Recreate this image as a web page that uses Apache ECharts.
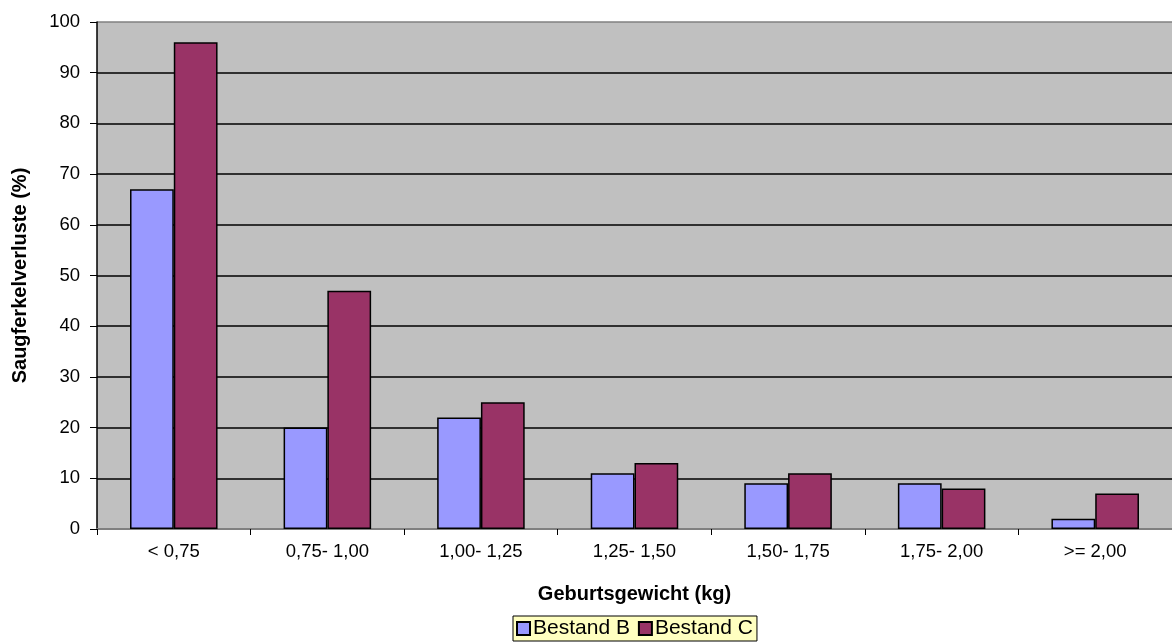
<!DOCTYPE html>
<html>
<head>
<meta charset="utf-8">
<script src="https://cdn.jsdelivr.net/npm/echarts@6/dist/echarts.min.js"></script>
<style>
  html, body { margin: 0; padding: 0; background: #fff; }
  #chart { width: 1172px; height: 642px; }
</style>
</head>
<body>
<div id="chart"></div>
<script>
// Birth-weight classes and piglet losses per herd
const categories = ['< 0,75', '0,75- 1,00', '1,00- 1,25', '1,25- 1,50', '1,50- 1,75', '1,75- 2,00', '>= 2,00'];
const bestandB = [67, 20, 22, 11, 9, 9, 2];
const bestandC = [96, 47, 25, 13, 11, 8, 7];
const seriesNames = ['Bestand B', 'Bestand C'];

const font = 'Liberation Sans, Arial, sans-serif';

// gridlines black; the 0 and 100 lines grey like the plot frame
const splitColors = ['#808080', '#000', '#000', '#000', '#000', '#000', '#000', '#000', '#000', '#000', '#808080'];

const chart = echarts.init(document.getElementById('chart'), null, { renderer: 'canvas' });
chart.setOption({
  animation: false,
  backgroundColor: '#ffffff',
  grid: {
    left: 97, right: -7, top: 22, bottom: 113,
    show: true, backgroundColor: '#c0c0c0', borderWidth: 0
  },
  legend: {
    data: seriesNames,
    bottom: 1,
    left: 513,
    backgroundColor: '#ffffc0',
    borderColor: '#000',
    borderWidth: 1,
    borderRadius: 0,
    padding: [2, 4, 2, 3],
    itemGap: 8,
    itemWidth: 13,
    itemHeight: 13,
    icon: 'rect',
    textStyle: { fontFamily: font, fontSize: 21, color: '#000', padding: [0, 0, 0, -2] }
  },
  xAxis: {
    type: 'category',
    data: categories,
    name: 'Geburtsgewicht (kg)',
    nameLocation: 'middle',
    nameGap: 55,
    nameTextStyle: { fontFamily: font, fontSize: 20, fontWeight: 'bold', color: '#000' },
    axisLine: { lineStyle: { color: '#808080', width: 2 } },
    axisTick: { show: true, alignWithLabel: false, length: 6, lineStyle: { color: '#000' } },
    axisLabel: { fontFamily: font, fontSize: 18.5, color: '#000', margin: 13 },
    splitLine: { show: false }
  },
  yAxis: {
    type: 'value',
    min: 0, max: 100, interval: 10,
    name: 'Saugferkelverluste (%)',
    nameLocation: 'middle',
    nameGap: 67,
    nameTextStyle: { fontFamily: font, fontSize: 20, fontWeight: 'bold', color: '#000' },
    axisLine: { show: true, lineStyle: { color: '#000', width: 1.5 } },
    axisTick: { show: true, length: 7, lineStyle: { color: '#000' } },
    axisLabel: { fontFamily: font, fontSize: 18.5, color: '#000', margin: 17 },
    splitLine: { show: true, lineStyle: { color: splitColors, width: 1.5 } }
  },
  series: [
    {
      name: seriesNames[0], type: 'bar', data: bestandB,
      barGap: '0%', barCategoryGap: '43%',
      itemStyle: { color: '#9999ff', borderColor: '#000', borderWidth: 1.5 }
    },
    {
      name: seriesNames[1], type: 'bar', data: bestandC,
      barGap: '0%', barCategoryGap: '43%',
      itemStyle: { color: '#993366', borderColor: '#000', borderWidth: 1.5 }
    }
  ]
});
</script>
</body>
</html>
